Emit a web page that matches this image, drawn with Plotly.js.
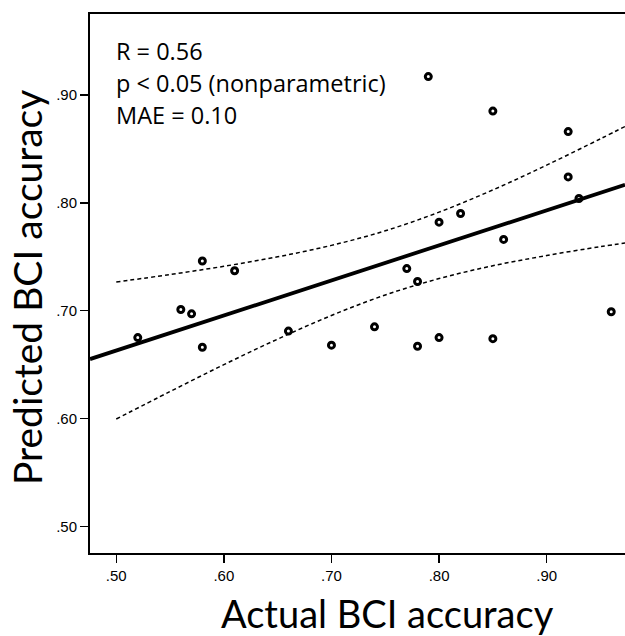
<!DOCTYPE html>
<html>
<head>
<meta charset="utf-8">
<script src="https://cdn.plot.ly/plotly-3.0.1.min.js"></script>
<style>html,body{margin:0;padding:0;overflow:hidden;background:#fff;}#chart{width:625px;height:636px;}</style>
</head>
<body>
<div id="chart"></div>
<script>
// Data
const actualAcc = [0.52,0.56,0.57,0.58,0.58,0.61,0.66,0.70,0.74,0.77,0.78,0.78,0.80,0.85,0.79,0.85,0.92,0.92,0.82,0.80,0.86,0.93,0.96];
const predictedAcc = [0.675,0.701,0.697,0.666,0.746,0.737,0.681,0.668,0.685,0.739,0.727,0.667,0.675,0.674,0.917,0.885,0.866,0.824,0.790,0.782,0.766,0.804,0.699];

// Regression fit
const fitSlope = 0.325;
const fitIntercept = 0.5005;

// 95% confidence band
const ciX = [0.50,0.55,0.60,0.65,0.70,0.75,0.80,0.85,0.90,0.95,0.975];
const ciUpper = [0.7265,0.7335,0.7411,0.7499,0.7605,0.7740,0.7913,0.8119,0.8349,0.8593,0.8718];
const ciLower = [0.5995,0.6250,0.6499,0.6736,0.6955,0.7145,0.7297,0.7416,0.7511,0.7593,0.7630];

const xTickVals = [0.5,0.6,0.7,0.8,0.9];
const xTickText = ['.50','.60','.70','.80','.90'];
const yTickVals = [0.5,0.6,0.7,0.8,0.9];
const yTickText = ['.50','.60','.70','.80','.90'];

const xRange = [0.4756, 0.9728];
const yRange = [0.4753, 0.975];

const statsLines = ['R = 0.56', 'p < 0.05 (nonparametric)', 'MAE = 0.10'];

const fitX = xRange.slice();
const fitY = fitX.map(x => fitIntercept + fitSlope * x);

const traces = [
  {x: actualAcc, y: predictedAcc, type: 'scatter', mode: 'markers',
   marker: {symbol: 'circle-open', size: 6, color: '#000', line: {width: 3, color: '#000'}}, hoverinfo: 'skip'},
  {x: ciX, y: ciUpper, type: 'scatter', mode: 'lines',
   line: {color: '#000', width: 1.5, dash: '4px,3px', shape: 'spline'}},
  {x: ciX, y: ciLower, type: 'scatter', mode: 'lines',
   line: {color: '#000', width: 1.5, dash: '4px,3px', shape: 'spline'}},
  {x: fitX, y: fitY, type: 'scatter', mode: 'lines',
   line: {color: '#000', width: 3.8}}
];

const textFont = {family: '"Open Sans", "Noto Sans", sans-serif', size: 23.5, color: '#000'};
const annotations = statsLines.map((t, i) => ({
  text: t, xref: 'paper', yref: 'paper', x: (114-90)/535, y: 1 - (51 + 32*i - 14)/539,
  xanchor: 'left', yanchor: 'middle', showarrow: false, font: textFont
}));
annotations.push({text: 'Actual BCI accuracy', xref: 'paper', yref: 'paper',
  x: (387 - 90)/535, y: -(630 - 553)/539, xanchor: 'center', yanchor: 'bottom', yshift: -8,
  showarrow: false, font: {family: 'Lato, "Noto Sans", sans-serif', size: 38, color: '#000'}});
annotations.push({text: 'Predicted BCI accuracy', xref: 'paper', yref: 'paper',
  x: -(90 - 27)/535, y: 1 - (288 - 14)/539, xanchor: 'center', yanchor: 'middle', textangle: -90,
  showarrow: false, font: {family: 'Lato, "Noto Sans", sans-serif', size: 39, color: '#000'}});

const layout = {
  width: 625, height: 636,
  margin: {l: 90, r: 0, t: 14, b: 83, pad: 0},
  paper_bgcolor: '#fff', plot_bgcolor: '#fff',
  showlegend: false,
  xaxis: {range: xRange, showgrid: false, zeroline: false, showline: true, mirror: true,
    linecolor: '#000', linewidth: 2, ticks: 'outside', ticklen: 8, tickwidth: 1.5, tickcolor: '#000',
    tickvals: xTickVals, ticktext: xTickText,
    tickfont: {family: '"Liberation Sans", Arial, sans-serif', size: 15, color: '#000'}},
  yaxis: {range: yRange, showgrid: false, zeroline: false, showline: true, mirror: false,
    linecolor: '#000', linewidth: 2, ticks: 'outside', ticklen: 8, tickwidth: 1.5, tickcolor: '#000',
    tickvals: yTickVals, ticktext: yTickText,
    tickfont: {family: '"Liberation Sans", Arial, sans-serif', size: 15, color: '#000'}},
  annotations: annotations
};

Plotly.newPlot('chart', traces, layout, {displayModeBar: false, staticPlot: true});
</script>
</body>
</html>
